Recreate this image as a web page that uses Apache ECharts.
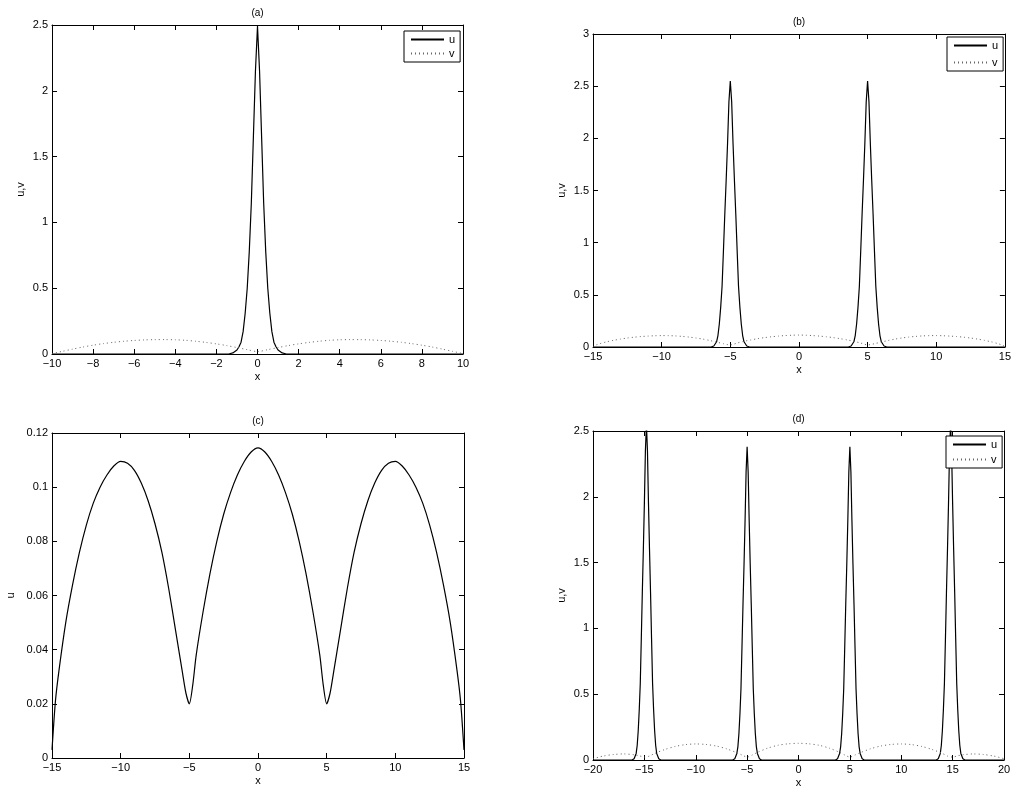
<!DOCTYPE html>
<html><head><meta charset="utf-8">
<script src="https://cdn.jsdelivr.net/npm/echarts@6/dist/echarts.min.js"></script>
<style>html,body{margin:0;padding:0;background:#fff}#c{width:1014px;height:792px}</style>
</head><body><div id="c"></div>
<script>
// ---- data ----
const titles = ['(a)', '(b)', '(c)', '(d)'];
const legendNames = ['u', 'v'];

// panel (a): u and v on [-10,10]
const uA = [[-10,0],[-1.4,0],[-1.2,0.008],[-1.0,0.03],[-0.9,0.055],[-0.8,0.09],[-0.7,0.17],[-0.6,0.31],[-0.5,0.5],[-0.4,0.78],[-0.3,1.15],[-0.2,1.65],[-0.1,2.15],[0,2.49],[0.1,2.15],[0.2,1.65],[0.3,1.15],[0.4,0.78],[0.5,0.5],[0.6,0.31],[0.7,0.17],[0.8,0.09],[0.9,0.055],[1.0,0.03],[1.2,0.008],[1.4,0],[10,0]];
const vA = [[-10,0.003],[-9.5,0.02],[-9,0.037],[-8.5,0.053],[-8,0.067],[-7.5,0.079],[-7,0.089],[-6.5,0.097],[-6,0.103],[-5.5,0.107],[-5,0.109],[-4.5,0.1095],[-4,0.108],[-3.5,0.104],[-3,0.097],[-2.5,0.088],[-2,0.077],[-1.5,0.064],[-1,0.049],[-0.5,0.033],[0,0.018],
  [0.5,0.033],[1,0.049],[1.5,0.064],[2,0.077],[2.5,0.088],[3,0.097],[3.5,0.104],[4,0.108],[4.5,0.1095],[5,0.109],[5.5,0.107],[6,0.103],[6.5,0.097],[7,0.089],[7.5,0.079],[8,0.067],[8.5,0.053],[9,0.037],[9.5,0.02],[10,0.003]];

// panel (b): u with two pulses on [-15,15]
const uB = [[-15,0],[-6.4,0],[-6.2,0.01],[-6.0,0.05],[-5.9,0.11],[-5.8,0.22],[-5.7,0.38],[-5.6,0.58],[-5.5,0.92],[-5.4,1.275],[-5.3,1.6],[-5.2,1.95],[-5.1,2.35],[-5.0,2.55],[-4.9,2.35],[-4.8,1.95],[-4.7,1.6],[-4.6,1.275],[-4.5,0.92],[-4.4,0.58],[-4.3,0.38],[-4.2,0.22],[-4.1,0.11],[-4.0,0.05],[-3.8,0.01],[-3.6,0],
  [3.6,0],[3.8,0.01],[4.0,0.05],[4.1,0.11],[4.2,0.22],[4.3,0.38],[4.4,0.58],[4.5,0.92],[4.6,1.275],[4.7,1.6],[4.8,1.95],[4.9,2.35],[5.0,2.55],[5.1,2.35],[5.2,1.95],[5.3,1.6],[5.4,1.275],[5.5,0.92],[5.6,0.58],[5.7,0.38],[5.8,0.22],[5.9,0.11],[6.0,0.05],[6.2,0.01],[6.4,0],[15,0]];
// v of panel (b) and u of panel (c) (same profile on [-15,15])
const wide = [[-15,0.003],[-14.75,0.021],[-14.5,0.032],[-14,0.05],[-13.5,0.064],[-13,0.076],[-12.5,0.086],[-12,0.094],[-11.5,0.1],[-11,0.1045],[-10.5,0.1078],[-10,0.1095],[-9.5,0.1088],[-9,0.1062],[-8.5,0.1015],[-8,0.095],[-7.5,0.0865],[-7,0.076],[-6.5,0.0625],[-6,0.047],[-5.5,0.0315],[-5.25,0.024],[-5,0.02],[-4.75,0.027],[-4.5,0.038],[-4,0.054],[-3.5,0.068],[-3,0.08],[-2.5,0.09],[-2,0.098],[-1.5,0.1045],[-1,0.1095],[-0.5,0.113],[0,0.1145],
  [0.5,0.113],[1,0.1095],[1.5,0.1045],[2,0.098],[2.5,0.09],[3,0.08],[3.5,0.068],[4,0.054],[4.5,0.038],[4.75,0.027],[5,0.02],[5.25,0.024],[5.5,0.0315],[6,0.047],[6.5,0.0625],[7,0.076],[7.5,0.0865],[8,0.095],[8.5,0.1015],[9,0.1062],[9.5,0.1088],[10,0.1095],[10.5,0.1078],[11,0.1045],[11.5,0.1],[12,0.094],[12.5,0.086],[13,0.076],[13.5,0.064],[14,0.05],[14.5,0.032],[14.75,0.021],[15,0.003]];

// panel (d): u with four pulses and v on [-20,20]
const uD = [[-20,0],[-16.2,0],[-16.0,0.01],[-15.8,0.05],[-15.7,0.11],[-15.6,0.22],[-15.5,0.38],[-15.4,0.58],[-15.3,0.92],[-15.2,1.275],[-15.1,1.6],[-15.0,1.95],[-14.9,2.35],[-14.8,2.55],[-14.7,2.35],[-14.6,1.95],[-14.5,1.6],[-14.4,1.275],[-14.3,0.92],[-14.2,0.58],[-14.1,0.38],[-14.0,0.22],[-13.9,0.11],[-13.8,0.05],[-13.6,0.01],[-13.4,0],
  [-6.4,0],[-6.2,0.01],[-6.0,0.05],[-5.9,0.1],[-5.8,0.2],[-5.7,0.35],[-5.6,0.54],[-5.5,0.86],[-5.4,1.19],[-5.3,1.49],[-5.2,1.82],[-5.1,2.19],[-5.0,2.38],[-4.9,2.19],[-4.8,1.82],[-4.7,1.49],[-4.6,1.19],[-4.5,0.86],[-4.4,0.54],[-4.3,0.35],[-4.2,0.2],[-4.1,0.1],[-4.0,0.05],[-3.8,0.01],[-3.6,0],
  [3.6,0],[3.8,0.01],[4.0,0.05],[4.1,0.1],[4.2,0.2],[4.3,0.35],[4.4,0.54],[4.5,0.86],[4.6,1.19],[4.7,1.49],[4.8,1.82],[4.9,2.19],[5.0,2.38],[5.1,2.19],[5.2,1.82],[5.3,1.49],[5.4,1.19],[5.5,0.86],[5.6,0.54],[5.7,0.35],[5.8,0.2],[5.9,0.1],[6.0,0.05],[6.2,0.01],[6.4,0],
  [13.4,0],[13.6,0.01],[13.8,0.05],[13.9,0.11],[14.0,0.22],[14.1,0.38],[14.2,0.58],[14.3,0.92],[14.4,1.275],[14.5,1.6],[14.6,1.95],[14.7,2.35],[14.8,2.55],[14.9,2.35],[15.0,1.95],[15.1,1.6],[15.2,1.275],[15.3,0.92],[15.4,0.58],[15.5,0.38],[15.6,0.22],[15.7,0.11],[15.8,0.05],[16.0,0.01],[16.2,0],[20,0]];
const vD = [[-20,0.01],[-19,0.03],[-18,0.042],[-17,0.046],[-16,0.04],[-15.5,0.032],[-15,0.022],[-14.5,0.03],[-14,0.05],[-13,0.08],[-12,0.103],[-11,0.117],[-10,0.122],[-9,0.118],[-8,0.106],[-7,0.085],[-6,0.055],[-5.5,0.038],[-5,0.022],[-4.5,0.038],[-4,0.058],[-3,0.09],[-2,0.112],[-1,0.123],[0,0.127],
  [1,0.123],[2,0.112],[3,0.09],[4,0.058],[4.5,0.038],[5,0.022],[5.5,0.038],[6,0.055],[7,0.085],[8,0.106],[9,0.118],[10,0.122],[11,0.117],[12,0.103],[13,0.08],[14,0.05],[14.5,0.03],[15,0.022],[15.5,0.032],[16,0.04],[17,0.046],[18,0.042],[19,0.03],[20,0.01]];

// axis ranges: [xmin, xmax, xstep, ymin, ymax, ystep]
const rangeA = [-10, 10, 2, 0, 2.5, 0.5];
const rangeB = [-15, 15, 5, 0, 3, 0.5];
const rangeC = [-15, 15, 5, 0, 0.12, 0.02];
const rangeD = [-20, 20, 5, 0, 2.5, 0.5];
const yNames = ['u,v', 'u,v', 'u', 'u,v'];

// ---- layout ----
const FONT = 'Liberation Sans';
const grids = [
  {left: 52, top: 25, width: 411, height: 329},
  {left: 593, top: 34, width: 412, height: 313},
  {left: 52, top: 433, width: 412, height: 325},
  {left: 593, top: 431, width: 411, height: 329}
];
const ranges = [rangeA, rangeB, rangeC, rangeD];
const fmt = (v) => {
  let s = Math.abs(v) < 1e-9 ? '0' : String(+v.toFixed(3));
  return s.replace('-', '\u2212');
};

const xAxis = [], yAxis = [], series = [], graphic = [], legend = [];
ranges.forEach((r, i) => {
  const common = {type: 'value', gridIndex: i, splitLine: {show: false},
    axisLine: {show: true, onZero: false, lineStyle: {color: '#000', width: 1}},
    axisTick: {show: true, inside: true, length: 5, lineStyle: {color: '#000'}}};
  xAxis.push(Object.assign({}, common, {position: 'bottom', min: r[0], max: r[1], interval: r[2],
    name: 'x', nameLocation: 'middle', nameGap: 17,
    nameTextStyle: {fontFamily: FONT, fontSize: 11, color: '#000'},
    axisLabel: {formatter: fmt, margin: 4, fontFamily: FONT, fontSize: 11, color: '#000'}}));
  xAxis.push(Object.assign({}, common, {position: 'top', min: r[0], max: r[1], interval: r[2],
    axisLabel: {show: false}}));
  yAxis.push(Object.assign({}, common, {position: 'left', min: r[3], max: r[4], interval: r[5],
    name: yNames[i], nameLocation: 'middle', nameGap: i === 2 ? 36 : 26,
    nameTextStyle: {fontFamily: FONT, fontSize: 11, color: '#000'},
    axisLabel: {formatter: fmt, margin: 4, fontFamily: FONT, fontSize: 11, color: '#000'}}));
  yAxis.push(Object.assign({}, common, {position: 'right', min: r[3], max: r[4], interval: r[5],
    axisLabel: {show: false}}));
  const g = grids[i];
  graphic.push({type: 'text', x: g.left + g.width / 2, y: g.top - 12,
    style: {text: titles[i], align: 'center', verticalAlign: 'middle', font: '10px ' + FONT, fill: '#000'}});
});

function lineSeries(name, data, gi, dotted, smooth) {
  return {type: 'line', name: name, data: data, xAxisIndex: gi * 2, yAxisIndex: gi * 2,
    showSymbol: false, symbol: 'none', smooth: smooth ? 0.25 : false, clip: true,
    lineStyle: dotted ? {color: '#666', width: 1, type: [1, 3]} : {color: '#000', width: 1.2},
    itemStyle: {color: dotted ? '#666' : '#000'}};
}
series.push(lineSeries('u', uA, 0, false, false));
series.push(lineSeries('v', vA, 0, true, true));
series.push(lineSeries('u', uB, 1, false, false));
series.push(lineSeries('v', wide, 1, true, true));
series.push(lineSeries('u', wide, 2, false, true));
series.push(lineSeries('u', uD, 3, false, false));
series.push(lineSeries('v', vD, 3, true, true));

const legendPos = [
  {left: 404, top: 31, gap: 3},
  {left: 947, top: 37, gap: 6},
  {left: 946, top: 436, gap: 4}
];
legendPos.forEach(p => {
  legend.push({data: legendNames, orient: 'vertical', left: p.left, top: p.top,
    itemWidth: 33, itemHeight: 10, itemGap: p.gap, itemStyle: {opacity: 0},
    padding: [3, 5, 3, 6], backgroundColor: '#fff', borderColor: '#000', borderWidth: 1,
    selectedMode: false, textStyle: {fontFamily: FONT, fontSize: 11, color: '#000'}});
});

const chart = echarts.init(document.getElementById('c'), null, {renderer: 'canvas'});
chart.setOption({animation: false, backgroundColor: '#fff', grid: grids, xAxis: xAxis, yAxis: yAxis,
  series: series, legend: legend, graphic: graphic});
</script></body></html>
